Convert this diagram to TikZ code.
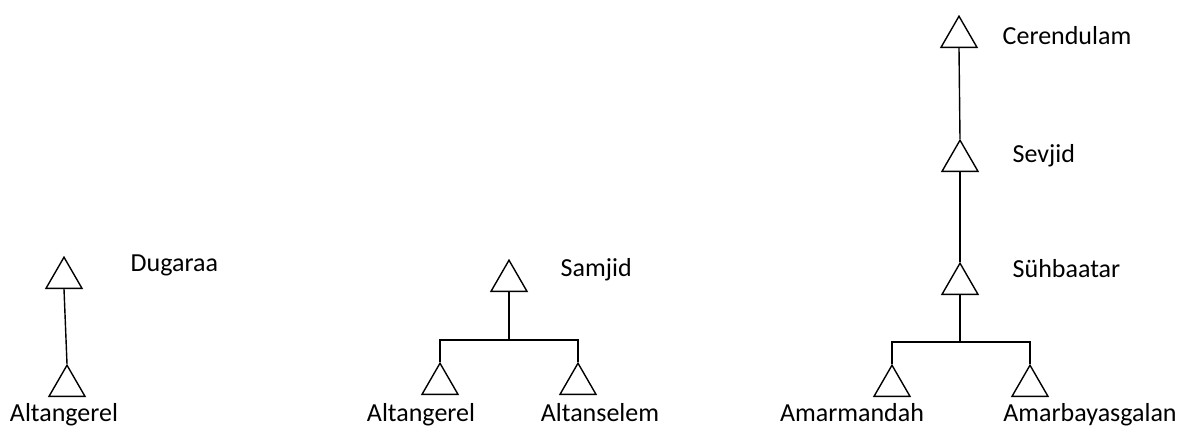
\documentclass[tikz,border=0pt]{standalone}
\usepackage{fontspec}
\setmainfont{Carlito}
\usetikzlibrary{shapes.geometric}

\tikzset{
  person/.style={draw, regular polygon, regular polygon sides=3, minimum size=41.6pt, inner sep=0pt},
  kin/.style={font=\fontsize{26}{31}\selectfont, inner sep=0pt}
}

\begin{document}
\begin{tikzpicture}[x=1pt,y=-1pt,line width=1.4pt]
    \useasboundingbox (0,0) rectangle (1187,427);
    \fill[white] (0,0) rectangle (1187,427);

    % first tree
    \node[person] (dug)  at (64,278) {};
    \node[person] (alt1) at (67,386) {};
    \draw (dug.south) -- (alt1.north);
    \node[kin, anchor=base west] (dugl)  at (130,272) {Dugaraa};
    \node[kin, anchor=base]      (alt1l) at (64,422)  {Altangerel};

    % second tree
    \node[person] (sam)  at (509,281) {};
    \node[person] (alt2) at (440,384) {};
    \node[person] (als)  at (578,384) {};
    \draw (sam.south) -- ++(0,48) coordinate (samj);
    \draw (alt2.north) -- (alt2.north |- samj) -- (als.north |- samj) -- (als.north);
    \node[kin, anchor=base west] (saml)  at (560,277) {Samjid};
    \node[kin, anchor=base]      (alt2l) at (421,422) {Altangerel};
    \node[kin, anchor=base]      (alsl)  at (600,422) {Altanselem};

    % third tree
    \node[person] (cer) at (959,37)  {};
    \node[person] (sev) at (960,161) {};
    \node[person] (suh) at (960,284) {};
    \node[person] (amm) at (892,386) {};
    \node[person] (amb) at (1030,386) {};
    \draw (cer.south) -- (sev.north);
    \draw (sev.south) -- (suh.north);
    \draw (suh.south) -- ++(0,47) coordinate (suhj);
    \draw (amm.north) -- (amm.north |- suhj) -- (amb.north |- suhj) -- (amb.north);
    \node[kin, anchor=base west] (cerl) at (1002,45)  {Cerendulam};
    \node[kin, anchor=base west] (sevl) at (1012,163) {Sevjid};
    \node[kin, anchor=base west] (suhl) at (1012,278) {Sühbaatar};
    \node[kin, anchor=base]      (amml) at (852,422)  {Amarmandah};
    \node[kin, anchor=base]      (ambl) at (1090,422) {Amarbayasgalan};
\end{tikzpicture}
\end{document}
